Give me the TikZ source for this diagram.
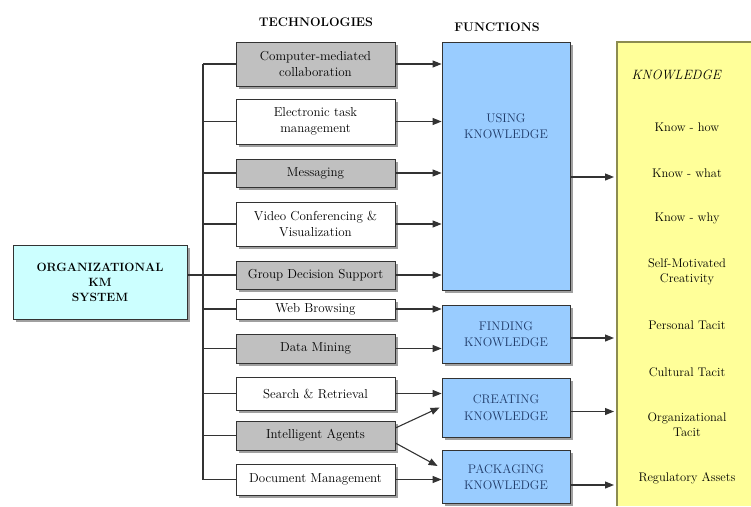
\documentclass[tikz,border=0pt]{standalone}
\usetikzlibrary{arrows.meta,shadows}
\definecolor{boxgray}{HTML}{C0C0C0}
\definecolor{fnblue}{HTML}{99CCFF}
\definecolor{knyellow}{HTML}{FFFF99}
\definecolor{okmcyan}{HTML}{CCFFFF}
\definecolor{fntext}{HTML}{1F3A68}
\definecolor{linegray}{HTML}{333333}
\definecolor{knborder}{HTML}{8C8C50}
\begin{document}
\begin{tikzpicture}[x=1pt,y=-1pt,
  box/.style={draw=linegray, line width=0.8pt, inner sep=1pt, align=center,
    drop shadow={shadow xshift=2.5pt,shadow yshift=-2.5pt,opacity=0.75}},
  techtext/.style={font=\fontsize{13}{16.5}\selectfont},
  techg/.style={box, techtext, fill=boxgray, minimum width=159pt},
  techw/.style={box, techtext, fill=white, minimum width=159pt},
  fnbox/.style={box, fill=fnblue, minimum width=128pt, text=fntext,
    font=\fontsize{12.5}{16.5}\selectfont},
  fnlabel/.style={text=fntext, align=center, font=\fontsize{12.5}{16.5}\selectfont},
  header/.style={font=\fontsize{12.5}{15}\selectfont\bfseries},
  kitem/.style={align=center, font=\fontsize{12.5}{15}\selectfont},
  conn/.style={draw=linegray, line width=1.1pt},
  arr/.style={draw=linegray, line width=1.1pt, -{Triangle[length=9pt,width=7pt]}}
]
\useasboundingbox (0,0) rectangle (751,506);

% headers
\node[header] (hTech) at (316,22) {TECHNOLOGIES};
\node[header] (hFun) at (497,27) {FUNCTIONS};

% organizational KM system
\node[box, fill=okmcyan, minimum width=174pt, minimum height=74pt,
      font=\fontsize{12}{15}\selectfont\bfseries] (okm) at (100,282)
      {ORGANIZATIONAL\\KM\\SYSTEM};

% technologies
\node[techg, minimum height=44pt] (t1) at (315.5,64) {Computer-mediated\\collaboration};
\node[techw, minimum height=45pt] (t2) at (315.5,121.5) {Electronic task\\management};
\node[techg, minimum height=28pt] (t3) at (315.5,173) {Messaging};
\node[techw, minimum height=44pt] (t4) at (315.5,224) {Video Conferencing \&\\Visualization};
\node[techg, minimum height=28pt] (t5) at (315.5,275) {Group Decision Support};
\node[techw, minimum height=20pt] (t6) at (315.5,309) {Web Browsing};
\node[techg, minimum height=29pt] (t7) at (315.5,348.5) {Data Mining};
\node[techw, minimum height=33pt] (t8) at (315.5,393.5) {Search \& Retrieval};
\node[techg, minimum height=29pt] (t9) at (315.5,435.5) {Intelligent Agents};
\node[techw, minimum height=31pt] (t10) at (315.5,479.5) {Document Management};

% functions
\node[fnbox, minimum height=248pt] (f1) at (506,166) {};
\node[fnlabel] (f1t) at (506,126) {USING\\KNOWLEDGE};
\node[fnbox, minimum height=58pt] (f2) at (506,334) {FINDING\\KNOWLEDGE};
\node[fnbox, minimum height=59pt] (f3) at (506,407.5) {CREATING\\KNOWLEDGE};
\node[fnbox, minimum height=53pt] (f4) at (506,477) {PACKAGING\\KNOWLEDGE};

% knowledge panel
\node[fill=knyellow, minimum width=134pt, minimum height=464pt, anchor=north west,
      inner sep=0pt, outer sep=0pt] (kn) at (617,42) {};
\draw[knborder, line width=1.2pt] (kn.south west) -- (kn.north west) -- (kn.north east);
\node[anchor=west, font=\fontsize{13.5}{16}\selectfont\itshape] (kt) at (628,75) {KNOWLEDGE};
\node[kitem] (k1) at (687,127) {Know - how};
\node[kitem] (k2) at (687,173) {Know - what};
\node[kitem] (k3) at (687,218) {Know - why};
\node[kitem] (k4) at (687,272) {Self-Motivated\\Creativity};
\node[kitem] (k5) at (687,325) {Personal Tacit};
\node[kitem] (k6) at (687,372) {Cultural Tacit};
\node[kitem] (k7) at (687,425) {Organizational\\Tacit};
\node[kitem] (k8) at (687,478) {Regulatory Assets};

% bus
\coordinate (bus) at (203,0);
\draw[conn] (bus |- t1.west) -- (bus |- t10.west);
\foreach \t in {t1,t2,t3,t4,t5,t6,t7,t8,t9,t10}
  \draw[conn] (bus |- \t.west) -- (\t.west);
\draw[conn] (okm.east |- t5.west) -- (bus |- t5.west);

% technology -> function arrows
\foreach \t/\f in {t1/f1,t2/f1,t3/f1,t4/f1,t5/f1,t6/f2,t7/f2,t8/f3,t10/f4}
  \draw[arr] (\t.east) -- (\t.east -| \f.west);
\draw[arr] ([yshift=7.5pt]t9.east) -- ([xshift=-2pt]f3.west);
\draw[arr] ([yshift=-7.5pt]t9.east) -- ([xshift=-4pt,yshift=11pt]f4.west);

% function -> knowledge arrows
\draw[arr] ([yshift=-11pt]f1.east) -- ([yshift=-11pt,xshift=-3pt]f1.east -| kn.west);
\draw[arr] ([yshift=-4pt]f2.east) -- ([yshift=-4pt,xshift=-3pt]f2.east -| kn.west);
\draw[arr] ([yshift=-4pt]f3.east) -- ([yshift=-4pt,xshift=-3pt]f3.east -| kn.west);
\draw[arr] ([yshift=-8pt]f4.east) -- ([yshift=-8pt,xshift=-3pt]f4.east -| kn.west);
\end{tikzpicture}
\end{document}
